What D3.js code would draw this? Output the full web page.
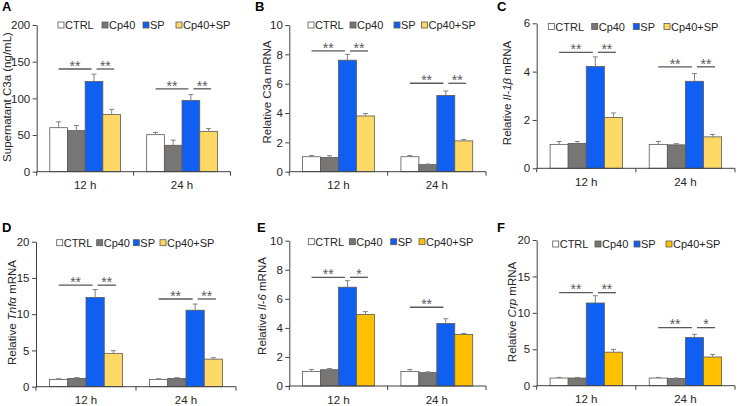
<!DOCTYPE html>
<html>
<head>
<meta charset="utf-8">
<script src="https://cdn.jsdelivr.net/npm/d3@7"></script>
<style>
  html, body { margin: 0; padding: 0; background: #fff; }
  svg { display: block; font-family: "Liberation Sans", Arial, sans-serif; }
</style>
</head>
<body>
<svg id="chart" width="738" height="406"></svg>
<script>
// ---------------- DATA ----------------
const groups = ["12 h", "24 h"];
const seriesNames = ["CTRL", "Cp40", "SP", "Cp40+SP"];

const ticksA = [0, 50, 100, 150, 200];
const ticksB = [0, 2, 4, 6, 8, 10];
const ticksC = [0, 2, 4, 6];
const ticksD = [0, 5, 10, 15, 20];
const ticksE = [0, 2, 4, 6, 8, 10];
const ticksF = [0, 5, 10, 15, 20];

const meanA = [[60, 56, 123, 78], [50.5, 36, 97, 55]];
const errA  = [[8, 7, 10, 7], [3, 7, 8, 4]];
const meanB = [[1.02, 0.97, 7.6, 3.8], [1.02, 0.48, 5.2, 2.1]];
const errB  = [[0.08, 0.12, 0.4, 0.17], [0.08, 0.04, 0.3, 0.1]];
const meanC = [[0.99, 1.03, 4.21, 2.1], [0.99, 0.97, 3.6, 1.3]];
const errC  = [[0.12, 0.08, 0.4, 0.19], [0.12, 0.05, 0.32, 0.1]];
const meanD = [[1.0, 1.15, 12.3, 4.6], [1.0, 1.15, 10.55, 3.8]];
const errD  = [[0.1, 0.1, 1.1, 0.37], [0.1, 0.1, 0.85, 0.2]];
const meanE = [[1.0, 1.12, 6.8, 4.92], [1.0, 0.92, 4.3, 3.55]];
const errE  = [[0.14, 0.08, 0.45, 0.2], [0.14, 0.05, 0.33, 0.07]];
const meanF = [[1.05, 1.05, 11.35, 4.6], [1.05, 1.0, 6.6, 3.94]];
const errF  = [[0.09, 0.09, 1.0, 0.38], [0.09, 0.05, 0.45, 0.36]];

// significance: [group, fromSeries, toSeries, yValue, label]
const sigA = [["12 h", 0, 2, 140, "**"], ["12 h", 2, 3, 140, "**"], ["24 h", 0, 2, 113, "**"], ["24 h", 2, 3, 113, "**"]];
const sigB = [["12 h", 0, 2, 8.23, "**"], ["12 h", 2, 3, 8.23, "**"], ["24 h", 0, 2, 6.03, "**"], ["24 h", 2, 3, 6.03, "**"]];
const sigC = [["12 h", 0, 2, 4.8, "**"], ["12 h", 2, 3, 4.8, "**"], ["24 h", 0, 2, 4.2, "**"], ["24 h", 2, 3, 4.2, "**"]];
const sigD = [["12 h", 0, 2, 14.0, "**"], ["12 h", 2, 3, 14.0, "**"], ["24 h", 0, 2, 12.1, "**"], ["24 h", 2, 3, 12.1, "**"]];
const sigE = [["12 h", 0, 2, 7.48, "**"], ["12 h", 2, 3, 7.48, "*"], ["24 h", 0, 2, 5.42, "**"]];
const sigF = [["12 h", 0, 2, 12.77, "**"], ["12 h", 2, 3, 12.77, "**"], ["24 h", 0, 2, 7.97, "**"], ["24 h", 2, 3, 7.97, "*"]];

// y-axis titles: [text, italic]
const titleA = [["Supernatant C3a (ng/mL)", false]];
const titleB = [["Relative C3a mRNA", false]];
const titleC = [["Relative ", false], ["Il-1\u03B2", true], [" mRNA", false]];
const titleD = [["Relative ", false], ["Tnf\u03B1", true], [" mRNA", false]];
const titleE = [["Relative ", false], ["Il-6", true], [" mRNA", false]];
const titleF = [["Relative ", false], ["Crp", true], [" mRNA", false]];

const panelLetters = ["A", "B", "C", "D", "E", "F"];

// ---------------- STYLE / LAYOUT ----------------
const fillsLight = ["#ffffff", "#787575", "#0f5ff2", "#ffd966"];
const fillsDark  = ["#ffffff", "#787575", "#0f5ff2", "#ffc000"];

const panels = [
  { letter: "A", mean: meanA, err: errA, ticks: ticksA, sig: sigA, title: titleA, fills: fillsLight,
    x0: 36.7, x1: 230.5, yb: 171.7, yt: 25, lx: 2, ly: 11, tx: 7, ty: 97, legX: [58, 102, 143, 176], legY: 25 },
  { letter: "B", mean: meanB, err: errB, ticks: ticksB, sig: sigB, title: titleB, fills: fillsLight,
    x0: 289.3, x1: 486, yb: 171.7, yt: 25, lx: 255, ly: 11, tx: 266.7, ty: 92, legX: [308, 350, 394, 421.5], legY: 25 },
  { letter: "C", mean: meanC, err: errC, ticks: ticksC, sig: sigC, title: titleC, fills: fillsLight,
    x0: 536.7, x1: 735, yb: 168.3, yt: 23.3, lx: 497, ly: 11, tx: 506.7, ty: 93, legX: [548.3, 591.7, 633.3, 664], legY: 26.5 },
  { letter: "D", mean: meanD, err: errD, ticks: ticksD, sig: sigD, title: titleD, fills: fillsLight,
    x0: 36, x1: 236, yb: 386.7, yt: 241.7, lx: 2, ly: 231.5, tx: 11.7, ty: 312.5, legX: [56.7, 96.7, 133.3, 160], legY: 242.7 },
  { letter: "E", mean: meanE, err: errE, ticks: ticksE, sig: sigE, title: titleE, fills: fillsDark,
    x0: 289.3, x1: 486, yb: 386, yt: 240.7, lx: 257, ly: 231.5, tx: 261.7, ty: 306, legX: [308.3, 349.3, 390.7, 419], legY: 241.7 },
  { letter: "F", mean: meanF, err: errF, ticks: ticksF, sig: sigF, title: titleF, fills: fillsDark,
    x0: 536.7, x1: 735, yb: 385.7, yt: 240, lx: 497, ly: 231.5, tx: 511.7, ty: 312, legX: [552.7, 595, 634, 666], legY: 244 }
];

const svg = d3.select("#chart");
const axisColor = "#404040";
const barStroke = "#595959";
const errColor = "#808080";
const sigColor = "#595959";

panels.forEach(p => {
  const g = svg.append("g");
  const yMax = p.ticks[p.ticks.length - 1];
  const y = d3.scaleLinear().domain([0, yMax]).range([p.yb, p.yt]);
  const xOuter = d3.scaleBand().domain(groups).range([p.x0, p.x1]).paddingInner(0.27).paddingOuter(0.135);
  const xInner = d3.scaleBand().domain(d3.range(seriesNames.length)).range([0, xOuter.bandwidth()]);
  const xTick = d3.scaleBand().domain(groups).range([p.x0, p.x1]);
  const cx = (grp, s) => xOuter(grp) + xInner(s) + xInner.bandwidth() / 2;

  // bars
  groups.forEach((grp, gi) => {
    const rows = p.mean[gi].map((v, si) => ({ v, e: p.err[gi][si], si }));
    g.selectAll(null).data(rows).enter().append("rect")
      .attr("x", d => xOuter(grp) + xInner(d.si))
      .attr("y", d => y(d.v))
      .attr("width", xInner.bandwidth())
      .attr("height", d => y(0) - y(d.v))
      .attr("fill", d => p.fills[d.si])
      .attr("stroke", barStroke)
      .attr("stroke-width", 0.8);
    // error bars (upper only)
    g.selectAll(null).data(rows).enter().append("line")
      .attr("x1", d => cx(grp, d.si)).attr("x2", d => cx(grp, d.si))
      .attr("y1", d => y(d.v)).attr("y2", d => y(d.v + d.e))
      .attr("stroke", errColor).attr("stroke-width", 1);
    g.selectAll(null).data(rows).enter().append("line")
      .attr("x1", d => cx(grp, d.si) - 2.5).attr("x2", d => cx(grp, d.si) + 2.5)
      .attr("y1", d => y(d.v + d.e)).attr("y2", d => y(d.v + d.e))
      .attr("stroke", errColor).attr("stroke-width", 1);
  });

  // y axis
  const yAxis = d3.axisLeft(y).tickValues(p.ticks).tickFormat(d3.format("d"))
    .tickSize(4).tickSizeOuter(0).tickPadding(2.5);
  const ya = g.append("g").attr("transform", `translate(${p.x0},0)`).call(yAxis);
  ya.select(".domain").attr("stroke", axisColor);
  ya.selectAll(".tick line").attr("stroke", axisColor);
  ya.selectAll(".tick text").attr("font-size", 11.5).attr("fill", "#262626")
    .attr("font-family", "Liberation Sans, Arial, sans-serif");

  // x axis
  g.append("line").attr("x1", p.x0).attr("x2", p.x1).attr("y1", p.yb).attr("y2", p.yb)
    .attr("stroke", axisColor).attr("stroke-width", 1);
  const tickXs = groups.map(grp => xTick(grp)).concat([p.x1]);
  g.selectAll(null).data(tickXs).enter().append("line")
    .attr("x1", d => d).attr("x2", d => d).attr("y1", p.yb).attr("y2", p.yb + 4)
    .attr("stroke", axisColor);
  g.selectAll(null).data(groups).enter().append("text")
    .attr("x", d => xTick(d) + xTick.bandwidth() / 2)
    .attr("y", p.yb + 17.5)
    .attr("text-anchor", "middle").attr("font-size", 11.5).attr("fill", "#262626")
    .text(d => d);

  // significance
  p.sig.forEach(([grp, from, to, v, label]) => {
    const xa = from === 0 ? cx(grp, from) : cx(grp, from) + 2.5;
    const xb = from === 0 ? cx(grp, to) - 2.5 : cx(grp, to) + 2.5;
    g.append("line").attr("x1", xa).attr("x2", xb).attr("y1", y(v)).attr("y2", y(v))
      .attr("stroke", sigColor).attr("stroke-width", 1.3);
    g.append("text").attr("x", (xa + xb) / 2).attr("y", y(v) + 1.8)
      .attr("text-anchor", "middle").attr("font-size", 14).attr("fill", sigColor)
      .text(label);
  });

  // legend
  seriesNames.forEach((name, si) => {
    g.append("rect").attr("x", p.legX[si]).attr("y", p.legY - 3).attr("width", 6).attr("height", 6)
      .attr("fill", p.fills[si]).attr("stroke", barStroke).attr("stroke-width", 0.8);
    g.append("text").attr("x", p.legX[si] + 7).attr("y", p.legY + 4)
      .attr("font-size", 11).attr("fill", "#262626").text(name);
  });

  // y title
  const t = g.append("text")
    .attr("transform", `translate(${p.tx + 4},${p.ty}) rotate(-90)`)
    .attr("text-anchor", "middle").attr("font-size", 11.5).attr("fill", "#262626");
  p.title.forEach(([txt, it]) => {
    t.append("tspan").attr("font-style", it ? "italic" : "normal").text(txt);
  });

  // panel letter
  g.append("text").attr("x", p.lx).attr("y", p.ly)
    .attr("font-size", 13).attr("font-weight", "bold").attr("fill", "#000").text(p.letter);
});
</script>
</body>
</html>
